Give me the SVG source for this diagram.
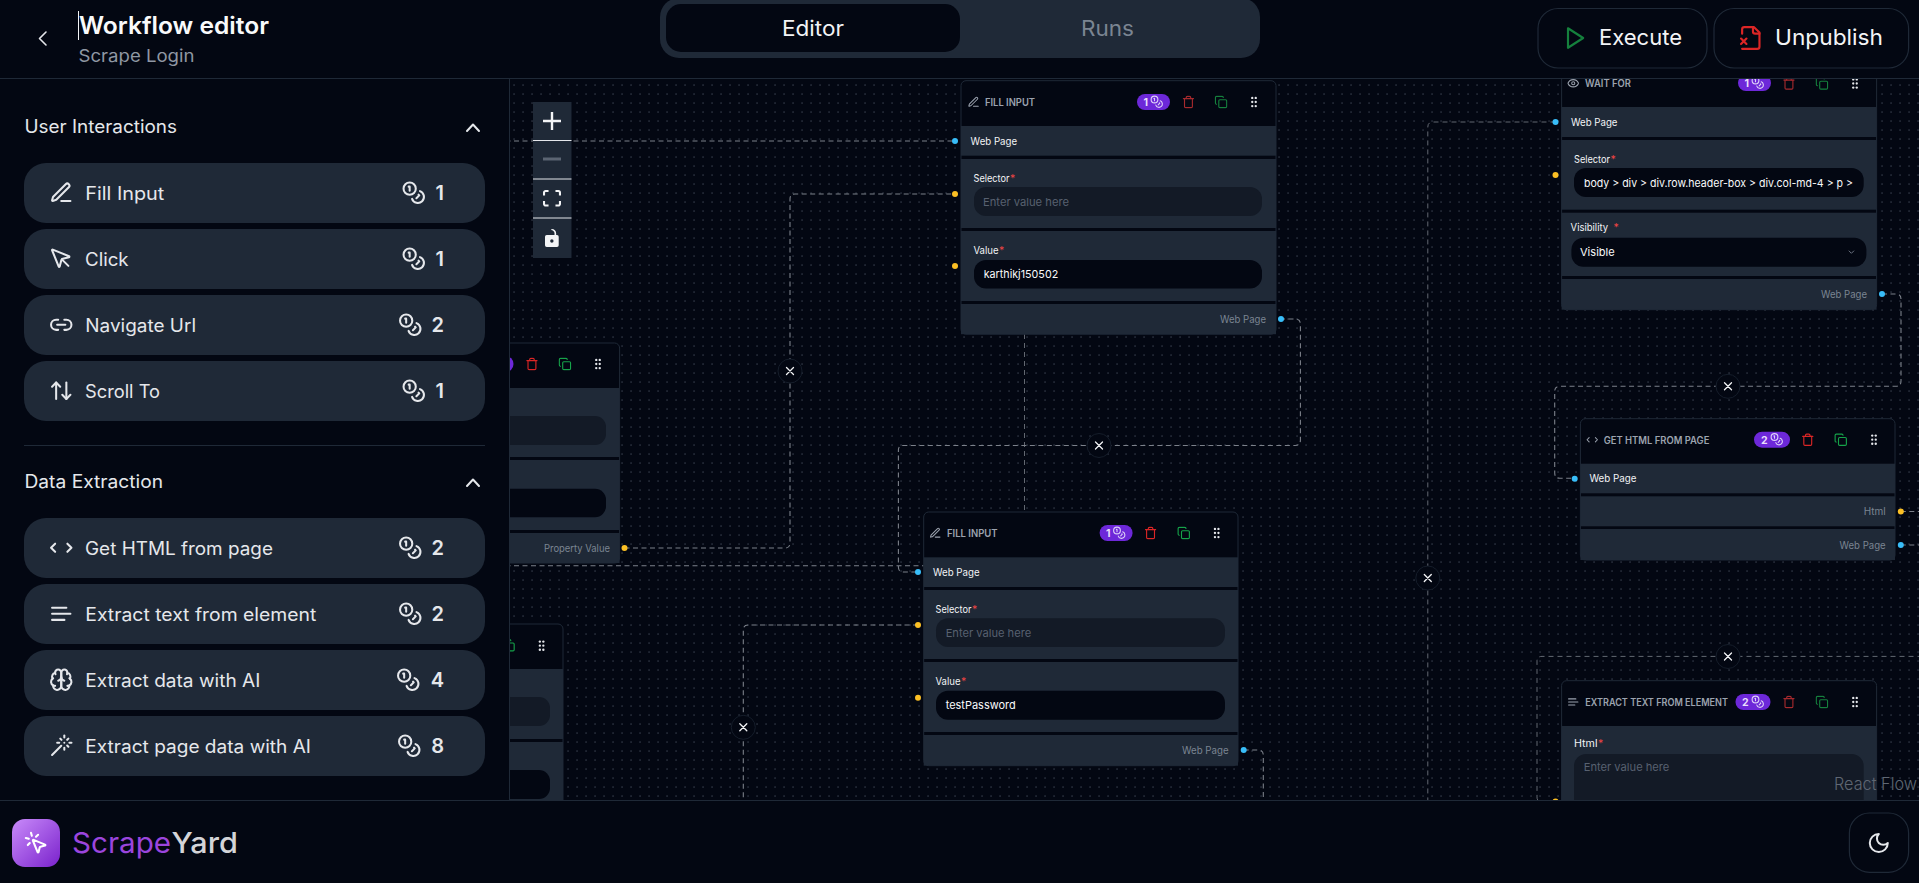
<svg xmlns="http://www.w3.org/2000/svg" width="1919" height="883" viewBox="0 0 1919 883">
<style>
text{font-family:"Inter","Liberation Sans",sans-serif}
.ic{fill:none;stroke:currentColor;stroke-width:2;stroke-linecap:round;stroke-linejoin:round}
.bg{fill:#030712}.panel{fill:#1f2937}
.edge{fill:none;stroke:#7c818a;stroke-width:1.1;stroke-dasharray:5 3.5}
.thin{stroke-width:.8;stroke-dasharray:5 4}
.del{fill:#030712;stroke:#151d2a;stroke-width:1}
.x{stroke:#f3f4f6;stroke-width:1.3;stroke-linecap:round}
.nodebox{fill:#030712;stroke:#1f2937;stroke-width:1}
.sec{fill:#1f2937}
.title{font-size:10px;font-weight:600;fill:#9ca3af}
.lab{font-size:10.5px;font-weight:400;fill:#f3f4f6}
.out{font-size:10.5px;fill:#7b8592}
.star{fill:#ef4444;font-size:10.5px}
.ph{font-size:11px;fill:#586170}.val{font-size:11px;fill:#f9fafb}
.empty{fill:#131a26}.full{fill:#030712}
.badge{fill:#6d28d9}
.bn{font-size:10.5px;font-weight:700;fill:#e9defc}
.hb{fill:#38bdf8}.hy{fill:#fbbf24}
.card{fill:#1f2937}
.ct{font-size:18px;fill:#e5e7eb}
.sh{font-size:18px;fill:#e5e7eb}
.num{font-size:20px;font-weight:600;fill:#e5e7eb;text-anchor:end}
.rd1{color:#a72a2e}.rd2{color:#dc2626}.gr1{color:#15803d}.gr2{color:#16a34a}.wh{color:#e5e7eb}.gy{color:#9ca3af}.pl{color:#ddd0f7}
.btn{fill:none;stroke:#1f2937;stroke-width:1.2}
.ctl{fill:#f3f4f6}
</style>
<defs>
<pattern id="dots" x="514" y="85" width="9" height="9" patternUnits="userSpaceOnUse"><rect x="-.5" y="-.5" width="1.1" height="1.1" fill="#4f5866"/><rect x="8.5" y="-.5" width="1.1" height="1.1" fill="#4f5866"/><rect x="-.5" y="8.5" width="1.1" height="1.1" fill="#4f5866"/><rect x="8.5" y="8.5" width="1.1" height="1.1" fill="#4f5866"/></pattern>
<linearGradient id="logo" x1="0" y1="0" x2="1" y2="1"><stop offset="0" stop-color="#c98bfa"/><stop offset="1" stop-color="#7a22cc"/></linearGradient>
<symbol id="i-pen" viewBox="0 0 24 24"><g class="ic"><path d="M12 20h9"/><path d="M16.376 3.622a1 1 0 0 1 3.002 3.002L7.368 18.635a2 2 0 0 1-.855.506l-2.872.838a.5.5 0 0 1-.62-.62l.838-2.872a2 2 0 0 1 .506-.854z"/></g></symbol>
<symbol id="i-pointer" viewBox="0 0 24 24"><g class="ic"><path d="M12.586 12.586 19 19"/><path d="M3.688 3.037a.497.497 0 0 0-.651.651l6.5 15.999a.5.5 0 0 0 .947-.062l1.569-6.083a2 2 0 0 1 1.448-1.479l6.124-1.579a.5.5 0 0 0 .063-.947z"/></g></symbol>
<symbol id="i-link" viewBox="0 0 24 24"><g class="ic"><path d="M9 17H7A5 5 0 0 1 7 7h2"/><path d="M15 7h2a5 5 0 1 1 0 10h-2"/><line x1="8" x2="16" y1="12" y2="12"/></g></symbol>
<symbol id="i-updown" viewBox="0 0 24 24"><g class="ic"><path d="m21 16-4 4-4-4"/><path d="M17 20V4"/><path d="m3 8 4-4 4 4"/><path d="M7 4v16"/></g></symbol>
<symbol id="i-code" viewBox="0 0 24 24"><g class="ic"><path d="m18 16 4-4-4-4"/><path d="m6 8-4 4 4 4"/></g></symbol>
<symbol id="i-text" viewBox="0 0 24 24"><g class="ic"><path d="M17 6.1H3"/><path d="M21 12.1H3"/><path d="M15.1 18H3"/></g></symbol>
<symbol id="i-brain" viewBox="0 0 24 24"><g class="ic"><path d="M12 5a3 3 0 1 0-5.997.125 4 4 0 0 0-2.526 5.77 4 4 0 0 0 .556 6.588A4 4 0 1 0 12 18Z"/><path d="M12 5a3 3 0 1 1 5.997.125 4 4 0 0 1 2.526 5.77 4 4 0 0 1-.556 6.588A4 4 0 1 1 12 18Z"/><path d="M15 13a4.5 4.5 0 0 1-3-4 4.5 4.5 0 0 1-3 4"/><path d="M17.599 6.5a3 3 0 0 0 .399-1.375"/><path d="M6.003 5.125A3 3 0 0 0 6.401 6.5"/><path d="M3.477 10.896a4 4 0 0 1 .585-.396"/><path d="M19.938 10.5a4 4 0 0 1 .585.396"/><path d="M6 18a4 4 0 0 1-1.967-.516"/><path d="M19.967 17.484A4 4 0 0 1 18 18"/></g></symbol>
<symbol id="i-wand" viewBox="0 0 24 24"><g class="ic"><path d="M15 4V2"/><path d="M15 16v-2"/><path d="M8 9h2"/><path d="M20 9h2"/><path d="M17.8 11.8 19 13"/><path d="M15 9h.01"/><path d="M17.8 6.2 19 5"/><path d="m3 21 9-9"/><path d="M12.2 6.2 11 5"/></g></symbol>
<symbol id="i-coins" viewBox="0 0 24 24"><g class="ic"><circle cx="8" cy="8" r="6"/><path d="M18.09 10.37A6 6 0 1 1 10.34 18"/><path d="M7 6h1v4"/><path d="m16.71 13.88.7.71-2.82 2.82"/></g></symbol>
<symbol id="i-trash" viewBox="0 0 24 24"><g class="ic"><path d="M3 6h18"/><path d="M19 6v14c0 1-1 2-2 2H7c-1 0-2-1-2-2V6"/><path d="M8 6V4c0-1 1-2 2-2h4c1 0 2 1 2 2v2"/></g></symbol>
<symbol id="i-copy" viewBox="0 0 24 24"><g class="ic"><rect width="14" height="14" x="8" y="8" rx="2" ry="2"/><path d="M4 16c-1.1 0-2-.9-2-2V4c0-1.1.9-2 2-2h10c1.1 0 2 .9 2 2"/></g></symbol>
<symbol id="i-grip" viewBox="0 0 24 24"><g fill="#e5e7eb"><circle cx="9" cy="12" r="2"/><circle cx="9" cy="5" r="2"/><circle cx="9" cy="19" r="2"/><circle cx="15" cy="12" r="2"/><circle cx="15" cy="5" r="2"/><circle cx="15" cy="19" r="2"/></g></symbol>
<symbol id="i-eye" viewBox="0 0 24 24"><g class="ic"><path d="M2.062 12.348a1 1 0 0 1 0-.696 10.75 10.75 0 0 1 19.876 0 1 1 0 0 1 0 .696 10.75 10.75 0 0 1-19.876 0"/><circle cx="12" cy="12" r="3"/></g></symbol>
<symbol id="i-play" viewBox="0 0 24 24"><g class="ic"><polygon points="6 3 20 12 6 21 6 3"/></g></symbol>
<symbol id="i-filex" viewBox="0 0 24 24"><g class="ic"><path d="M4 22h14a2 2 0 0 0 2-2V7l-5-5H6a2 2 0 0 0-2 2v4"/><path d="M14 2v4a2 2 0 0 0 2 2h4"/><path d="m8 12.5-5 5"/><path d="m3 12.5 5 5"/></g></symbol>
<symbol id="i-moon" viewBox="0 0 24 24"><g class="ic"><path d="M12 3a6 6 0 0 0 9 9 9 9 0 1 1-9-9Z"/></g></symbol>
<symbol id="i-click" viewBox="0 0 24 24"><g class="ic"><path d="M14 4.1 12 6"/><path d="m5.1 8-2.9-.8"/><path d="m6 12-1.9 2"/><path d="M7.2 2.2 8 5.1"/><path d="M9.037 9.69a.498.498 0 0 1 .653-.653l11 4.5a.5.5 0 0 1-.074.949l-4.349 1.041a1 1 0 0 0-.74.739l-1.04 4.35a.5.5 0 0 1-.95.074z"/></g></symbol>
</defs>

<rect class="bg" width="1919" height="883"/>
<rect x="509" y="79" width="1410" height="721" fill="url(#dots)"/>

<g id="connectors">
<path class="edge" d="M480 141H955"/>
<path class="edge" d="M624.5 548H785Q790 548 790 543V199Q790 194 795 194H955"/>
<path class="edge" d="M1280 319H1295Q1300.4 319 1300.4 324V440Q1300.4 445.5 1295 445.5H903Q898.4 445.5 898.4 450V567Q898.4 572 903 572H918"/>
<path class="edge thin" d="M1024.5 334V512"/>
<path class="edge" d="M480 565.7H924"/>
<path class="edge" d="M918 625H748Q743.3 625 743.3 630V810"/>
<path class="edge" d="M1243.7 750H1258Q1263.3 750 1263.3 755V810"/>
<path class="edge thin" d="M1555.5 122H1433Q1427.8 122 1427.8 127V810"/>
<path class="edge" d="M1882 294H1896Q1901 294 1901 299V381Q1901 386.3 1896 386.3H1560Q1554.7 386.3 1554.7 391V473Q1554.7 478.3 1560 478.3H1574.7"/>
<path class="edge thin" d="M1555 802H1542Q1537 802 1537 797V661Q1537 656.4 1542 656.4H1930"/>
<path class="edge" d="M1900.8 511.5H1930"/>
<path class="edge" d="M1900.8 545H1930"/>
<g id="edge-delete">
<g><circle class="del" cx="790" cy="371" r="12"/><path class="x" d="M786.5 367.5l7 7m0-7l-7 7"/></g>
<g><circle class="del" cx="1099" cy="445.5" r="12"/><path class="x" d="M1095.5 442l7 7m0-7l-7 7"/></g>
<g><circle class="del" cx="743.3" cy="727.3" r="12"/><path class="x" d="M739.8 723.8l7 7m0-7l-7 7"/></g>
<g><circle class="del" cx="1427.8" cy="578" r="12"/><path class="x" d="M1424.3 574.5l7 7m0-7l-7 7"/></g>
<g><circle class="del" cx="1728" cy="386.3" r="12"/><path class="x" d="M1724.5 382.8l7 7m0-7l-7 7"/></g>
<g><circle class="del" cx="1728" cy="656.5" r="12"/><path class="x" d="M1724.5 653l7 7m0-7l-7 7"/></g>
</g>
</g>

<g id="node-property">
<rect class="nodebox" x="305" y="343" width="314.6" height="220" rx="5"/>
<rect class="sec" x="305" y="388" width="314.6" height="69"/>
<rect class="sec" x="305" y="460" width="314.6" height="70"/>
<rect class="sec" x="305" y="533" width="314.6" height="30"/>
<rect class="badge" x="480" y="356" width="33.5" height="16" rx="8"/>
<use class="rd2" href="#i-trash" x="525.2" y="357.2" width="13.5" height="13.5"/>
<use class="gr2" href="#i-copy" x="558.2" y="357.2" width="13.5" height="13.5"/>
<use href="#i-grip" x="591" y="357" width="14" height="14"/>
<rect class="empty" x="320" y="416" width="286" height="29" rx="11"/>
<rect class="full" x="320" y="488.7" width="286" height="28.5" rx="11"/>
<text class="out" x="544" y="552" textLength="66" lengthAdjust="spacingAndGlyphs">Property Value</text>
<circle class="hy" cx="624.5" cy="548" r="3"/>
</g>

<g id="node-lower-left">
<rect class="nodebox" x="248" y="624" width="315" height="200" rx="5"/>
<rect class="sec" x="248" y="669" width="315" height="70"/>
<rect class="sec" x="248" y="742" width="315" height="70"/>
<use class="gr2" href="#i-copy" x="501.8" y="638.5" width="13.5" height="13.5"/>
<use href="#i-grip" x="534.6" y="638.7" width="14" height="14"/>
<rect class="empty" x="262" y="697" width="288" height="29" rx="11"/>
<rect class="full" x="262" y="770" width="288" height="29" rx="11"/>
</g>

<g id="node-fill-input-1">
<rect class="nodebox" x="961" y="80.7" width="315" height="253.5" rx="5"/>
<rect class="sec" x="961" y="126" width="315" height="29.7"/>
<rect class="sec" x="961" y="159" width="315" height="69"/>
<rect class="sec" x="961" y="231" width="315" height="70"/>
<rect class="sec" x="961" y="304" width="315" height="30.2"/>
<use class="gy" href="#i-pen" x="967.3" y="95.8" width="12.5" height="12.5"/>
<text class="title" x="985" y="105.5" textLength="50" lengthAdjust="spacingAndGlyphs">FILL INPUT</text>
<rect class="badge" x="1137" y="94" width="33" height="16" rx="8"/>
<text class="bn" x="1143.5" y="106">1</text>
<use class="pl" href="#i-coins" x="1150" y="95" width="13.5" height="13.5"/>
<use class="rd1" href="#i-trash" x="1181.7" y="95.2" width="13.5" height="13.5"/>
<use class="gr1" href="#i-copy" x="1214.3" y="95.2" width="13.5" height="13.5"/>
<use href="#i-grip" x="1247" y="95" width="14" height="14"/>
<text class="lab" x="970.6" y="144.7" textLength="46.5" lengthAdjust="spacingAndGlyphs">Web Page</text>
<text class="lab" x="973.5" y="181.5" textLength="36" lengthAdjust="spacingAndGlyphs">Selector</text><text class="star" x="1010" y="181.5">*</text>
<rect class="empty" x="974" y="187" width="288" height="29" rx="12"/>
<text class="ph" x="983" y="205.5" textLength="86" lengthAdjust="spacingAndGlyphs">Enter value here</text>
<text class="lab" x="973.5" y="253.5" textLength="25" lengthAdjust="spacingAndGlyphs">Value</text><text class="star" x="999" y="253.5">*</text>
<rect class="full" x="974" y="260" width="288" height="28.5" rx="12"/>
<text class="val" x="983.7" y="278" textLength="74.5" lengthAdjust="spacingAndGlyphs">karthikj150502</text>
<text class="out" x="1220" y="322.7" textLength="46" lengthAdjust="spacingAndGlyphs">Web Page</text>
<circle class="hb" cx="955" cy="141" r="3"/>
<circle class="hy" cx="955" cy="194" r="3"/>
<circle class="hy" cx="955" cy="266" r="3"/>
<circle class="hb" cx="1281" cy="319" r="3"/>
</g>

<g id="node-fill-input-2">
<rect class="nodebox" x="923.7" y="512" width="314.3" height="253.7" rx="5"/>
<rect class="sec" x="923.7" y="557.3" width="314.3" height="29.7"/>
<rect class="sec" x="923.7" y="590" width="314.3" height="69"/>
<rect class="sec" x="923.7" y="662" width="314.3" height="70"/>
<rect class="sec" x="923.7" y="735" width="314.3" height="30.7"/>
<use class="gy" href="#i-pen" x="929" y="526.7" width="12.5" height="12.5"/>
<text class="title" x="947" y="536.5" textLength="50.6" lengthAdjust="spacingAndGlyphs">FILL INPUT</text>
<rect class="badge" x="1099.6" y="525" width="33" height="16" rx="8"/>
<text class="bn" x="1106" y="537">1</text>
<use class="pl" href="#i-coins" x="1112.5" y="526" width="13.5" height="13.5"/>
<use class="rd2" href="#i-trash" x="1143.8" y="526.2" width="13.5" height="13.5"/>
<use class="gr2" href="#i-copy" x="1177" y="526.2" width="13.5" height="13.5"/>
<use href="#i-grip" x="1209.7" y="526" width="14" height="14"/>
<text class="lab" x="933" y="575.7" textLength="46.6" lengthAdjust="spacingAndGlyphs">Web Page</text>
<text class="lab" x="935.5" y="612.5" textLength="36" lengthAdjust="spacingAndGlyphs">Selector</text><text class="star" x="972" y="612.5">*</text>
<rect class="empty" x="936" y="618.3" width="289" height="28.7" rx="12"/>
<text class="ph" x="945.7" y="636.7" textLength="85.5" lengthAdjust="spacingAndGlyphs">Enter value here</text>
<text class="lab" x="935.5" y="684.5" textLength="25" lengthAdjust="spacingAndGlyphs">Value</text><text class="star" x="961" y="684.5">*</text>
<rect class="full" x="936" y="690.7" width="289" height="29" rx="12"/>
<text class="val" x="945.7" y="709" textLength="70" lengthAdjust="spacingAndGlyphs">testPassword</text>
<text class="out" x="1182" y="753.7" textLength="46.6" lengthAdjust="spacingAndGlyphs">Web Page</text>
<circle class="hb" cx="918" cy="572" r="3"/>
<circle class="hy" cx="918" cy="625" r="3"/>
<circle class="hy" cx="918" cy="697.7" r="3"/>
<circle class="hb" cx="1243.7" cy="750" r="3"/>
</g>

<g id="node-wait-for">
<rect class="nodebox" x="1561.6" y="62" width="315" height="247.7" rx="5"/>
<rect class="sec" x="1561.6" y="107" width="315" height="30"/>
<rect class="sec" x="1561.6" y="140" width="315" height="69.7"/>
<rect class="sec" x="1561.6" y="212.7" width="315" height="63.3"/>
<rect class="sec" x="1561.6" y="279" width="315" height="30.7"/>
<use class="gy" href="#i-eye" x="1567" y="77" width="12.5" height="12.5"/>
<text class="title" x="1585" y="87" textLength="46" lengthAdjust="spacingAndGlyphs">WAIT FOR</text>
<rect class="badge" x="1738" y="75" width="33" height="16" rx="8"/>
<text class="bn" x="1744.5" y="87">1</text>
<use class="pl" href="#i-coins" x="1751" y="76" width="13.5" height="13.5"/>
<use class="rd1" href="#i-trash" x="1782.2" y="76.7" width="13.5" height="13.5"/>
<use class="gr1" href="#i-copy" x="1815.2" y="76.7" width="13.5" height="13.5"/>
<use href="#i-grip" x="1848" y="76.5" width="14" height="14"/>
<text class="lab" x="1571" y="125.7" textLength="46.5" lengthAdjust="spacingAndGlyphs">Web Page</text>
<text class="lab" x="1574" y="162.5" textLength="36" lengthAdjust="spacingAndGlyphs">Selector</text><text class="star" x="1610.5" y="162.5">*</text>
<rect class="full" x="1574" y="168" width="289.7" height="29" rx="12"/>
<text class="val" x="1584" y="186.7" textLength="269" lengthAdjust="spacingAndGlyphs">body &gt; div &gt; div.row.header-box &gt; div.col-md-4 &gt; p &gt;</text>
<text class="lab" x="1570.6" y="230.7" textLength="37.5" lengthAdjust="spacingAndGlyphs">Visibility</text>
<text class="star" x="1613.5" y="230.7">*</text>
<rect class="full" x="1571.4" y="237.7" width="295" height="29" rx="12"/>
<text class="val" x="1580" y="256.2" textLength="34.7" lengthAdjust="spacingAndGlyphs">Visible</text>
<path d="M1848.8 250.7l2.600 2.600 2.600-2.600" fill="none" stroke="#6b7280" stroke-width="1"/>
<text class="out" x="1821" y="297.7" textLength="46" lengthAdjust="spacingAndGlyphs">Web Page</text>
<circle class="hb" cx="1555.5" cy="122" r="3"/>
<circle class="hy" cx="1555.5" cy="175" r="3"/>
<circle class="hb" cx="1882" cy="294" r="3"/>
</g>

<g id="node-get-html">
<rect class="nodebox" x="1580.4" y="418.7" width="314.6" height="141.3" rx="5"/>
<rect class="sec" x="1580.4" y="463.7" width="314.6" height="29.6"/>
<rect class="sec" x="1580.4" y="496.3" width="314.6" height="30"/>
<rect class="sec" x="1580.4" y="529" width="314.6" height="31"/>
<use class="gy" href="#i-code" x="1586" y="433.5" width="12.5" height="12.5"/>
<text class="title" x="1603.7" y="443.5" textLength="105.7" lengthAdjust="spacingAndGlyphs">GET HTML FROM PAGE</text>
<rect class="badge" x="1754" y="431.7" width="36" height="16" rx="8"/>
<text class="bn" x="1761" y="443.7">2</text>
<use class="pl" href="#i-coins" x="1770" y="432.5" width="13.5" height="13.5"/>
<use class="rd2" href="#i-trash" x="1801" y="433" width="13.5" height="13.5"/>
<use class="gr2" href="#i-copy" x="1834" y="433" width="13.5" height="13.5"/>
<use href="#i-grip" x="1867" y="432.7" width="14" height="14"/>
<text class="lab" x="1589.4" y="482.4" textLength="47" lengthAdjust="spacingAndGlyphs">Web Page</text>
<text class="out" x="1863.7" y="515.4" textLength="22" lengthAdjust="spacingAndGlyphs">Html</text>
<text class="out" x="1839.6" y="548.7" textLength="46" lengthAdjust="spacingAndGlyphs">Web Page</text>
<circle class="hb" cx="1574.7" cy="478.7" r="3"/>
<circle class="hy" cx="1900.8" cy="511.5" r="3"/>
<circle class="hb" cx="1900.8" cy="545" r="3"/>
</g>

<g id="node-extract-text">
<rect class="nodebox" x="1561.6" y="680.7" width="315" height="140" rx="5"/>
<rect class="sec" x="1561.6" y="726" width="315" height="90"/>
<use class="gy" href="#i-text" x="1567" y="695.7" width="12.5" height="12.5"/>
<text class="title" x="1585.3" y="705.5" textLength="142.7" lengthAdjust="spacingAndGlyphs">EXTRACT TEXT FROM ELEMENT</text>
<rect class="badge" x="1735.5" y="694" width="35" height="16" rx="8"/>
<text class="bn" x="1742" y="706">2</text>
<use class="pl" href="#i-coins" x="1751" y="695" width="13.5" height="13.5"/>
<use class="rd1" href="#i-trash" x="1782.2" y="695.2" width="13.5" height="13.5"/>
<use class="gr1" href="#i-copy" x="1815.2" y="695.2" width="13.5" height="13.5"/>
<use href="#i-grip" x="1848" y="695" width="14" height="14"/>
<text class="lab" x="1574" y="746.7" textLength="23.5" lengthAdjust="spacingAndGlyphs">Html</text><text class="star" x="1598" y="746.7">*</text>
<rect class="empty" x="1574" y="754" width="289.7" height="70" rx="12"/>
<text class="ph" x="1583.7" y="770.5" textLength="85.7" lengthAdjust="spacingAndGlyphs">Enter value here</text>
<circle class="hy" cx="1555.5" cy="801.5" r="3"/>
<text x="1834" y="790" font-size="17" font-weight="300" fill="#5f6773" textLength="83" lengthAdjust="spacingAndGlyphs">React Flow</text>
</g>

<g id="controls">
<rect class="panel" x="533" y="102" width="38.5" height="156"/>
<path d="M533 140.5h38.500M533 179h38.500M533 218h38.500" stroke="#e5e7eb" stroke-width="1"/>
<path class="ctl" transform="translate(543 112) scale(.5625)" d="M32 18.133H18.133V32h-4.266V18.133H0v-4.266h13.867V0h4.266v13.867H32z"/>
<rect x="543" y="157.5" width="18" height="3" fill="#5b6472"/>
<path class="ctl" transform="translate(543 190) scale(.5625)" d="M3.692 4.63c0-.53.4-.938.939-.938h5.215V0H4.708C2.13 0 0 2.054 0 4.63v5.216h3.692V4.631zM27.354 0h-5.2v3.692h5.17c.53 0 .984.4.984.939v5.215H32V4.631A4.624 4.624 0 0027.354 0zm.954 24.83c0 .532-.4.94-.939.94h-5.215v3.768h5.215c2.577 0 4.631-2.13 4.631-4.707v-5.139h-3.692v5.139zm-23.677.94c-.531 0-.939-.4-.939-.94v-5.138H0v5.139c0 2.577 2.13 4.707 4.708 4.707h5.138V25.77H4.631z"/>
<path class="ctl" transform="translate(545 229) scale(.5625)" d="M21.333 10.667H19.81V7.619C19.81 3.429 16.38 0 12.19 0c-1.828 0-1.37 2.133.305 2.438 1.676.305 4.42 2.59 4.42 5.181v3.048H3.047A3.056 3.056 0 000 13.714v15.238A3.056 3.056 0 003.048 32h18.285a3.056 3.056 0 003.048-3.048V13.714a3.056 3.056 0 00-3.048-3.047zM12.19 24.533a3.056 3.056 0 01-3.047-3.047 3.056 3.056 0 013.047-3.048 3.056 3.056 0 013.048 3.048 3.056 3.056 0 01-3.048 3.047z"/>
</g>

<g id="sidebar">
<rect class="bg" x="0" y="79" width="509" height="721"/>
<path d="M509.5 79V800" stroke="#1f2937" stroke-width="1"/>
<text class="sh" x="24.5" y="133" textLength="152.5" lengthAdjust="spacingAndGlyphs">User Interactions</text>
<path d="M467 131l6-6.500 6 6.500" fill="none" stroke="#e5e7eb" stroke-width="2" stroke-linecap="round" stroke-linejoin="round"/>

<g id="tool-fill-input"><rect class="card" x="24" y="163" width="461" height="60" rx="22"/><use class="wh" href="#i-pen" x="49" y="180.5" width="24.5" height="24.5"/><text class="ct" x="85.3" y="200" textLength="79" lengthAdjust="spacingAndGlyphs">Fill Input</text><use class="wh" href="#i-coins" x="401.5" y="180.5" width="24.5" height="24.5"/><text class="num" x="444" y="200">1</text></g>
<g id="tool-click"><rect class="card" x="24" y="229" width="461" height="60" rx="22"/><use class="wh" href="#i-pointer" x="49" y="246.5" width="24.5" height="24.5"/><text class="ct" x="85" y="266" textLength="43.6" lengthAdjust="spacingAndGlyphs">Click</text><use class="wh" href="#i-coins" x="401.5" y="246.5" width="24.5" height="24.5"/><text class="num" x="444" y="266">1</text></g>
<g id="tool-navigate"><rect class="card" x="24" y="295" width="461" height="60" rx="22"/><use class="wh" href="#i-link" x="49" y="312.5" width="24.5" height="24.5"/><text class="ct" x="85.3" y="332" textLength="110.7" lengthAdjust="spacingAndGlyphs">Navigate Url</text><use class="wh" href="#i-coins" x="398" y="312.5" width="24.5" height="24.5"/><text class="num" x="444" y="332">2</text></g>
<g id="tool-scroll"><rect class="card" x="24" y="361" width="461" height="60" rx="22"/><use class="wh" href="#i-updown" x="49" y="378.5" width="24.5" height="24.5"/><text class="ct" x="85" y="398" textLength="75" lengthAdjust="spacingAndGlyphs">Scroll To</text><use class="wh" href="#i-coins" x="401.5" y="378.5" width="24.5" height="24.5"/><text class="num" x="444" y="398">1</text></g>

<path d="M24 445.5H485" stroke="#1f2937" stroke-width="1"/>
<text class="sh" x="24.5" y="488" textLength="138.5" lengthAdjust="spacingAndGlyphs">Data Extraction</text>
<path d="M467 486l6-6.500 6 6.500" fill="none" stroke="#e5e7eb" stroke-width="2" stroke-linecap="round" stroke-linejoin="round"/>

<g id="tool-get-html"><rect class="card" x="24" y="518" width="461" height="60" rx="22"/><use class="wh" href="#i-code" x="49" y="535.5" width="24.5" height="24.5"/><text class="ct" x="85" y="555" textLength="188" lengthAdjust="spacingAndGlyphs">Get HTML from page</text><use class="wh" href="#i-coins" x="398" y="535.5" width="24.5" height="24.5"/><text class="num" x="444" y="555">2</text></g>
<g id="tool-extract-text"><rect class="card" x="24" y="584" width="461" height="60" rx="22"/><use class="wh" href="#i-text" x="49" y="601.5" width="24.5" height="24.5"/><text class="ct" x="85.3" y="621" textLength="231" lengthAdjust="spacingAndGlyphs">Extract text from element</text><use class="wh" href="#i-coins" x="398" y="601.5" width="24.5" height="24.5"/><text class="num" x="444" y="621">2</text></g>
<g id="tool-extract-ai"><rect class="card" x="24" y="650" width="461" height="60" rx="22"/><use class="wh" href="#i-brain" x="49" y="667.5" width="24.5" height="24.5"/><text class="ct" x="85.3" y="687" textLength="175" lengthAdjust="spacingAndGlyphs">Extract data with AI</text><use class="wh" href="#i-coins" x="396" y="667.5" width="24.5" height="24.5"/><text class="num" x="444" y="687">4</text></g>
<g id="tool-extract-page"><rect class="card" x="24" y="716" width="461" height="60" rx="22"/><use class="wh" href="#i-wand" x="49" y="733.5" width="24.5" height="24.5"/><text class="ct" x="85.3" y="753" textLength="225.7" lengthAdjust="spacingAndGlyphs">Extract page data with AI</text><use class="wh" href="#i-coins" x="397" y="733.5" width="24.5" height="24.5"/><text class="num" x="444" y="753">8</text></g>
</g>

<g id="header">
<rect class="bg" width="1919" height="78.5"/>
<path d="M0 78.5H1919" stroke="#1f2937" stroke-width="1"/>
<path d="M46 32l-6.500 6.500 6.500 6.500" fill="none" stroke="#e5e7eb" stroke-width="1.600" stroke-linecap="round" stroke-linejoin="round"/>
<path d="M78.5 11V40" stroke="#f3f4f6" stroke-width="1"/>
<text x="79" y="34" font-size="24" font-weight="600" fill="#f9fafb" textLength="190" lengthAdjust="spacingAndGlyphs">Workflow editor</text>
<text x="78.5" y="62" font-size="17" fill="#8f97a3" textLength="116" lengthAdjust="spacingAndGlyphs">Scrape Login</text>
<g id="tabs">
<rect class="panel" x="660" y="-2" width="600" height="60" rx="19"/>
<rect class="bg" x="666" y="4" width="294" height="48" rx="15"/>
<text x="782" y="35.5" font-size="21" fill="#f3f4f6" textLength="62" lengthAdjust="spacingAndGlyphs">Editor</text>
<text x="1081" y="35.5" font-size="21" fill="#7b8592" textLength="53" lengthAdjust="spacingAndGlyphs">Runs</text>
</g>
<g id="btn-execute">
<rect class="btn" x="1538" y="8.5" width="169" height="59.5" rx="20"/>
<use class="gr1" href="#i-play" x="1561.5" y="25" width="26" height="26"/>
<text x="1599" y="45" font-size="22" fill="#f3f4f6" textLength="83" lengthAdjust="spacingAndGlyphs">Execute</text>
</g>
<g id="btn-unpublish">
<rect class="btn" x="1714" y="8.5" width="194.6" height="59.5" rx="20"/>
<use class="rd2" href="#i-filex" x="1737.8" y="25" width="26" height="26"/>
<text x="1775" y="45" font-size="22" fill="#f3f4f6" textLength="108" lengthAdjust="spacingAndGlyphs">Unpublish</text>
</g>
</g>

<g id="footer">
<rect class="bg" y="800" width="1919" height="83"/>
<path d="M0 800.5H1919" stroke="#1f2937" stroke-width="1"/>
<rect x="12" y="819" width="48" height="48" rx="13" fill="url(#logo)"/>
<use href="#i-click" x="23.5" y="830.5" width="25" height="25" style="color:#fff"/>
<text x="72" y="852.7" font-size="29" fill="#9b45dd" textLength="99" lengthAdjust="spacingAndGlyphs">Scrape</text>
<text x="171.5" y="852.7" font-size="29" font-weight="500" fill="#d4d4d8" textLength="66.5" lengthAdjust="spacingAndGlyphs">Yard</text>
<rect class="btn" x="1849.4" y="813" width="59.2" height="59.3" rx="20"/>
<use class="wh" href="#i-moon" x="1866.8" y="831" width="24" height="24"/>
</g>
</svg>
